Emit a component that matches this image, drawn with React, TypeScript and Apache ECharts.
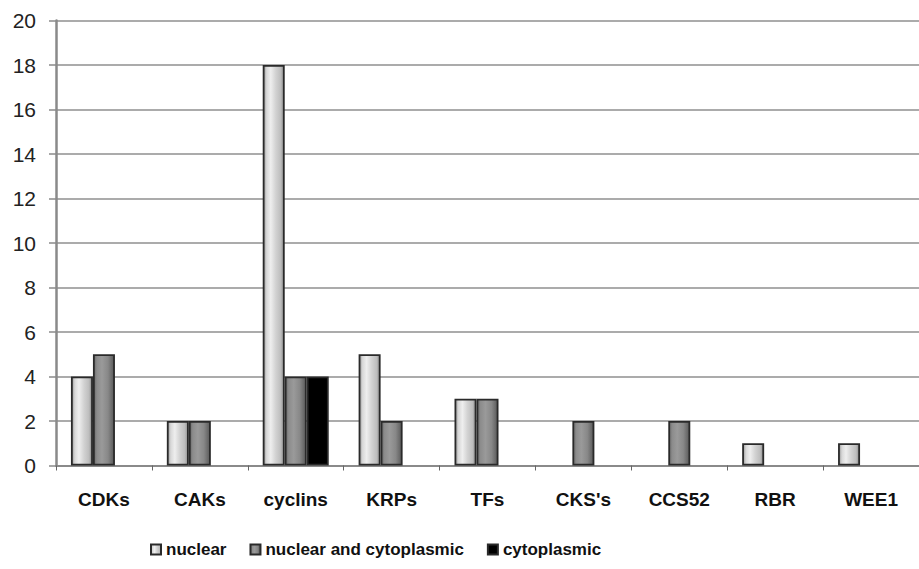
import React, { useEffect, useRef } from "react";
import * as echarts from "echarts";

const categories = ["CDKs", "CAKs", "cyclins", "KRPs", "TFs", "CKS's", "CCS52", "RBR", "WEE1"];
const nuclear = [4, 2, 18, 5, 3, null, null, 1, 1];
const nuclearCyto = [5, 2, 4, 2, 3, 2, 2, null, null];
const cytoplasmic = [null, null, 4, null, null, null, null, null, null];
const yTicks = { min: 0, max: 20, interval: 2 };

const grad = (stops: [number, string][]) => ({
  type: "linear",
  x: 0,
  y: 0,
  x2: 1,
  y2: 0,
  colorStops: stops.map(([offset, color]) => ({ offset, color })),
});

export default function App() {
  const ref = useRef<HTMLDivElement>(null);
  useEffect(() => {
    if (!ref.current) return;
    const chart = echarts.init(ref.current, undefined, { renderer: "svg" });
    const font = "Liberation Sans, Arial, sans-serif";
    const border = { borderColor: "#2a2a2a", borderWidth: 1.8 };
    chart.setOption({
      animation: false,
      backgroundColor: "#ffffff",
      grid: { left: 56, top: 20.5, width: 873, height: 445 },
      legend: {
        left: 150,
        top: 541,
        padding: 0,
        itemWidth: 10,
        itemHeight: 10,
        itemGap: 23,
        icon: "rect",
        textStyle: { fontFamily: font, fontSize: 17, fontWeight: "bold", color: "#111" },
        data: ["nuclear", "nuclear and cytoplasmic", "cytoplasmic"],
      },
      xAxis: {
        type: "category",
        data: categories,
        axisLine: { lineStyle: { color: "#8a8a8a", width: 2 } },
        axisTick: { show: true, length: 5, lineStyle: { color: "#666" } },
        axisLabel: { margin: 24, fontFamily: font, fontSize: 19, fontWeight: "bold", color: "#111" },
      },
      yAxis: {
        type: "value",
        min: yTicks.min,
        max: yTicks.max,
        interval: yTicks.interval,
        axisLine: { show: true, lineStyle: { color: "#8a8a8a", width: 2.5 } },
        axisTick: { show: true, length: 7, lineStyle: { color: "#8a8a8a", width: 1.5 } },
        axisLabel: { margin: 20, fontFamily: font, fontSize: 21, color: "#222" },
        splitLine: { show: true, lineStyle: { color: "#8f8f8f", width: 1.5 } },
      },
      series: [
        {
          name: "nuclear",
          type: "bar",
          data: nuclear,
          barWidth: 22,
          barGap: "0%",
          itemStyle: {
            ...border,
            color: grad([
              [0, "#9a9a9a"],
              [0.15, "#d8d8d8"],
              [0.35, "#eeeeee"],
              [0.6, "#d2d2d2"],
              [0.85, "#bdbdbd"],
              [1, "#8c8c8c"],
            ]),
          },
        },
        {
          name: "nuclear and cytoplasmic",
          type: "bar",
          data: nuclearCyto,
          barWidth: 22,
          barGap: "0%",
          itemStyle: {
            ...border,
            color: grad([
              [0, "#6a6a6a"],
              [0.15, "#8c8c8c"],
              [0.4, "#9a9a9a"],
              [0.7, "#888888"],
              [1, "#5a5a5a"],
            ]),
          },
        },
        {
          name: "cytoplasmic",
          type: "bar",
          data: cytoplasmic,
          barWidth: 22,
          barGap: "0%",
          itemStyle: { ...border, color: "#000000" },
        },
      ],
    });
    return () => chart.dispose();
  }, []);
  return (
    <div
      ref={ref}
      style={{ position: "fixed", left: 0, top: 0, width: 919, height: 569 }}
    />
  );
}
